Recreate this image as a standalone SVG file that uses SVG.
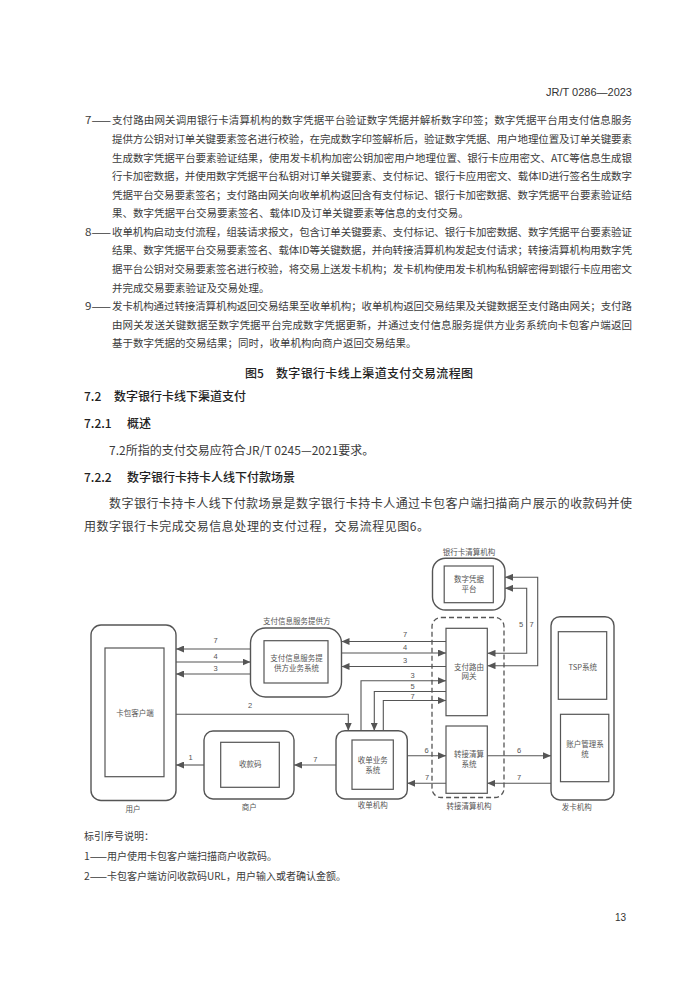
<svg xmlns="http://www.w3.org/2000/svg" width="700" height="990" viewBox="0 0 700 990">
<style>
.b{font-family:"Noto Sans CJK SC","Liberation Sans",sans-serif;font-size:10.5px;fill:#3c3c3c}
.h{font-family:"Noto Sans CJK SC","Liberation Sans",sans-serif;font-size:12px;fill:#222;font-weight:500}
.p{font-family:"Noto Sans CJK SC","Liberation Sans",sans-serif;font-size:12px;fill:#3c3c3c}
.l{font-family:"Noto Sans CJK SC","Liberation Sans",sans-serif;font-size:10px;fill:#3c3c3c}
.d{font-family:"Noto Sans CJK SC","Liberation Sans",sans-serif;font-size:7.5px;fill:#555;text-anchor:middle}
.n{font-family:"Liberation Sans",sans-serif;font-size:7.5px;fill:#555;text-anchor:middle}
.o{fill:#fff;stroke:#555;stroke-width:1.4}
.i{fill:#fff;stroke:#555;stroke-width:1.2}
.c{fill:none;stroke:#555;stroke-width:1.1}
</style>
<defs>
<marker id="a" markerUnits="userSpaceOnUse" markerWidth="9" markerHeight="7" refX="8" refY="3.5" orient="auto-start-reverse">
<path d="M0,0 L8,3.5 L0,7 z" fill="#555"/>
</marker>
</defs>
<rect width="700" height="990" fill="#fff"/>

<text x="632" y="96" font-family="Liberation Sans,sans-serif" font-size="11" fill="#333" text-anchor="end">JR/T 0286—2023</text>

<g id="text-top">
<text class="b" x="85" y="124" textLength="26" lengthAdjust="spacingAndGlyphs">7——</text>
<text class="b" x="112" y="124" textLength="520" lengthAdjust="spacing">支付路由网关调用银行卡清算机构的数字凭据平台验证数字凭据并解析数字印签；数字凭据平台用支付信息服务</text>
<text class="b" x="112" y="143" textLength="520" lengthAdjust="spacing">提供方公钥对订单关键要素签名进行校验，在完成数字印签解析后，验证数字凭据、用户地理位置及订单关键要素</text>
<text class="b" x="112" y="162" textLength="520" lengthAdjust="spacing">生成数字凭据平台要素验证结果，使用发卡机构加密公钥加密用户地理位置、银行卡应用密文、ATC等信息生成银</text>
<text class="b" x="112" y="180" textLength="520" lengthAdjust="spacing">行卡加密数据，并使用数字凭据平台私钥对订单关键要素、支付标记、银行卡应用密文、载体ID进行签名生成数字</text>
<text class="b" x="112" y="199" textLength="520" lengthAdjust="spacing">凭据平台交易要素签名；支付路由网关向收单机构返回含有支付标记、银行卡加密数据、数字凭据平台要素验证结</text>
<text class="b" x="112" y="217">果、数字凭据平台交易要素签名、载体ID及订单关键要素等信息的支付交易。</text>
<text class="b" x="85" y="236" textLength="26" lengthAdjust="spacingAndGlyphs">8——</text>
<text class="b" x="112" y="236" textLength="520" lengthAdjust="spacing">收单机构启动支付流程，组装请求报文，包含订单关键要素、支付标记、银行卡加密数据、数字凭据平台要素验证</text>
<text class="b" x="112" y="254" textLength="520" lengthAdjust="spacing">结果、数字凭据平台交易要素签名、载体ID等关键数据，并向转接清算机构发起支付请求；转接清算机构用数字凭</text>
<text class="b" x="112" y="273" textLength="520" lengthAdjust="spacing">据平台公钥对交易要素签名进行校验，将交易上送发卡机构；发卡机构使用发卡机构私钥解密得到银行卡应用密文</text>
<text class="b" x="112" y="292">并完成交易要素验证及交易处理。</text>
<text class="b" x="85" y="310" textLength="26" lengthAdjust="spacingAndGlyphs">9——</text>
<text class="b" x="112" y="310" textLength="520" lengthAdjust="spacing">发卡机构通过转接清算机构返回交易结果至收单机构；收单机构返回交易结果及关键数据至支付路由网关；支付路</text>
<text class="b" x="112" y="329" textLength="520" lengthAdjust="spacing">由网关发送关键数据至数字凭据平台完成数字凭据更新，并通过支付信息服务提供方业务系统向卡包客户端返回</text>
<text class="b" x="112" y="347">基于数字凭据的交易结果；同时，收单机构向商户返回交易结果。</text>
</g>

<g id="text-mid">
<text class="h" x="245" y="378">图5</text>
<text class="h" x="276" y="378" textLength="197" lengthAdjust="spacing">数字银行卡线上渠道支付交易流程图</text>
<text class="h" x="84" y="401">7.2</text>
<text class="h" x="114" y="401">数字银行卡线下渠道支付</text>
<text class="h" x="84" y="428">7.2.1</text>
<text class="h" x="127" y="428">概述</text>
<text class="p" x="109" y="455">7.2所指的支付交易应符合JR/T 0245—2021要求。</text>
<text class="h" x="84" y="482">7.2.2</text>
<text class="h" x="127" y="482">数字银行卡持卡人线下付款场景</text>
<text class="p" x="109" y="507.5" textLength="523" lengthAdjust="spacing">数字银行卡持卡人线下付款场景是数字银行卡持卡人通过卡包客户端扫描商户展示的收款码并使</text>
<text class="p" x="84" y="530.5" textLength="345" lengthAdjust="spacing">用数字银行卡完成交易信息处理的支付过程，交易流程见图6。</text>
</g>

<g id="connectors">
<line class="c" x1="250.5" y1="649" x2="176" y2="649" marker-end="url(#a)"/>
<line class="c" x1="176" y1="662" x2="250.5" y2="662" marker-end="url(#a)"/>
<line class="c" x1="250.5" y1="674" x2="176" y2="674" marker-end="url(#a)"/>
<line class="c" x1="446" y1="641.5" x2="341.5" y2="641.5" marker-end="url(#a)"/>
<line class="c" x1="341.5" y1="653" x2="446" y2="653" marker-end="url(#a)"/>
<line class="c" x1="446" y1="666.5" x2="341.5" y2="666.5" marker-end="url(#a)"/>
<polyline class="c" points="487.5,653.3 526.7,653.3 526.7,588.3 505,588.3" marker-start="url(#a)" marker-end="url(#a)"/>
<polyline class="c" points="487.5,665.7 537.7,665.7 537.7,577.3 505,577.3" marker-start="url(#a)" marker-end="url(#a)"/>
<polyline class="c" points="361,730.7 361,680.7 446,680.7" marker-end="url(#a)"/>
<polyline class="c" points="446,691.5 374.3,691.5 374.3,730.7" marker-end="url(#a)"/>
<polyline class="c" points="383.3,730.7 383.3,700.5 446,700.5" marker-end="url(#a)"/>
<polyline class="c" points="176,714.3 348.3,714.3 348.3,730.7" marker-end="url(#a)"/>
<line class="c" x1="204" y1="765" x2="176" y2="765" marker-end="url(#a)"/>
<line class="c" x1="336" y1="765" x2="294" y2="765" marker-end="url(#a)"/>
<line class="c" x1="407.3" y1="755.7" x2="446" y2="755.7" marker-end="url(#a)"/>
<line class="c" x1="446" y1="783.3" x2="407.3" y2="783.3" marker-end="url(#a)"/>
<line class="c" x1="487.3" y1="755.7" x2="551" y2="755.7" marker-end="url(#a)"/>
<line class="c" x1="551" y1="783.3" x2="487.3" y2="783.3" marker-end="url(#a)"/>
<text class="n" x="215.7" y="642.5">7</text>
<text class="n" x="215.7" y="658.5">4</text>
<text class="n" x="215.7" y="670.5">3</text>
<text class="n" x="405" y="636.5">7</text>
<text class="n" x="405" y="649.5">4</text>
<text class="n" x="405" y="662.5">3</text>
<text class="n" x="412.7" y="677.5">3</text>
<text class="n" x="412.7" y="688.5">5</text>
<text class="n" x="412.7" y="699">7</text>
<text class="n" x="521" y="627">5</text>
<text class="n" x="531.7" y="627">7</text>
<text class="n" x="250" y="707.5">2</text>
<text class="n" x="190.7" y="759.5">1</text>
<text class="n" x="315.3" y="761.5">7</text>
<text class="n" x="426.7" y="753">6</text>
<text class="n" x="427" y="780">7</text>
<text class="n" x="519" y="753">6</text>
<text class="n" x="519" y="780">7</text>
</g>

<g id="clearing-org">
<rect x="432" y="617.5" width="72" height="180" rx="9" fill="none" stroke="#555" stroke-width="1.3" stroke-dasharray="5,3"/>
<text class="d" x="469" y="809">转接清算机构</text>
</g>

<g id="gateway">
<rect class="i" x="446" y="628.3" width="41.3" height="87.4"/>
<text class="d" x="469" y="669.5">支付路由</text>
<text class="d" x="469" y="679">网关</text>
</g>

<g id="clearing-sys">
<rect class="i" x="446" y="726" width="41.3" height="67.3"/>
<text class="d" x="469" y="757">转接清算</text>
<text class="d" x="469" y="767">系统</text>
</g>

<g id="platform">
<rect class="o" x="432.5" y="558.3" width="72.5" height="51.7" rx="13"/>
<rect class="i" x="444.2" y="566" width="49.1" height="36.7"/>
<text class="d" x="469" y="582">数字凭据</text>
<text class="d" x="469" y="592">平台</text>
<text class="d" x="469" y="554.5">银行卡清算机构</text>
</g>

<g id="user">
<rect class="o" x="91" y="625" width="85" height="175.5" rx="10"/>
<rect class="i" x="105" y="648" width="59" height="128.7"/>
<text class="d" x="135" y="715.5">卡包客户端</text>
<text class="d" x="133" y="812">用户</text>
</g>

<g id="provider">
<rect class="o" x="250.5" y="628" width="91" height="69" rx="15"/>
<rect class="i" x="264" y="640.7" width="64" height="42.3"/>
<text class="d" x="296.5" y="660.5">支付信息服务提</text>
<text class="d" x="296.5" y="670.5">供方业务系统</text>
<text class="d" x="296.7" y="623.5">支付信息服务提供方</text>
</g>

<g id="merchant">
<rect class="o" x="204" y="731" width="90" height="68" rx="9"/>
<rect class="i" x="220.7" y="742.3" width="58.6" height="45"/>
<text class="d" x="250.3" y="767">收款码</text>
<text class="d" x="249.3" y="810">商户</text>
</g>

<g id="acquirer">
<rect class="o" x="336" y="730.7" width="71.3" height="68.3" rx="9"/>
<rect class="i" x="352" y="740" width="41.3" height="49.3"/>
<text class="d" x="372.7" y="763">收单业务</text>
<text class="d" x="372.7" y="773">系统</text>
<text class="d" x="372.7" y="808">收单机构</text>
</g>

<g id="issuer">
<rect class="o" x="551" y="616.7" width="63" height="183.3" rx="9"/>
<rect class="i" x="558.3" y="631.7" width="48.4" height="67.6"/>
<text class="d" x="582.7" y="670">TSP系统</text>
<rect class="i" x="560.5" y="714.3" width="48.3" height="67.4"/>
<text class="d" x="585" y="747">账户管理系</text>
<text class="d" x="585" y="757">统</text>
<text class="d" x="576.7" y="809.5">发卡机构</text>
</g>

<g id="legend">
<text class="l" x="84" y="840">标引序号说明：</text>
<text class="l" x="84" y="860"><tspan textLength="23" lengthAdjust="spacingAndGlyphs">1——</tspan>用户使用卡包客户端扫描商户收款码。</text>
<text class="l" x="84" y="880"><tspan textLength="23" lengthAdjust="spacingAndGlyphs">2——</tspan>卡包客户端访问收款码URL，用户输入或者确认金额。</text>
<text x="626" y="921" font-family="Liberation Sans,sans-serif" font-size="10" fill="#333" text-anchor="end">13</text>
</g>
</svg>
